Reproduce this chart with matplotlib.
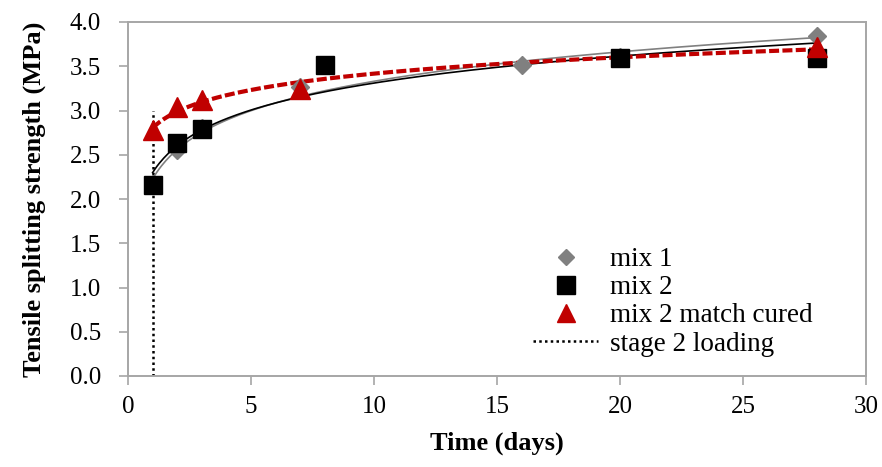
import numpy as np
import matplotlib
matplotlib.use("Agg")
import matplotlib.pyplot as plt
from matplotlib.lines import Line2D

plt.rcParams['font.family'] = ['Liberation Serif', 'DejaVu Serif']

mix1_days = [1, 2, 3, 7, 16, 20, 28]
mix1_vals = [2.17, 2.55, 2.80, 3.27, 3.51, 3.60, 3.84]
mix2_days = [1, 2, 3, 8, 20, 28]
mix2_vals = [2.16, 2.63, 2.79, 3.51, 3.59, 3.59]
mc_days = [1, 2, 3, 7, 28]
mc_vals = [2.78, 3.04, 3.12, 3.24, 3.72]
stage2_day = 1
stage2_range = [0.0, 3.0]

xticks = [0, 5, 10, 15, 20, 25, 30]
yticks = [0.0, 0.5, 1.0, 1.5, 2.0, 2.5, 3.0, 3.5, 4.0]

fig = plt.figure(figsize=(8.82, 4.67), dpi=100)
ax = fig.add_axes([128/882, 1-376/467, (866-128)/882, (376-22)/467])

def logfit(d, v):
    a, b = np.polyfit(np.log(d), v, 1)
    xs = np.linspace(min(d), max(d), 300)
    return xs, a * np.log(xs) + b

spine_c = '#a6a6a6'
dot_style = (0, (1, 1.3))

ax.plot([stage2_day, stage2_day], stage2_range, color='black', linestyle=dot_style, lw=1.8, zorder=2)

xs, ys = logfit(mix1_days, mix1_vals)
ax.plot(xs, ys, color='#808080', lw=1.2, zorder=3)
xs, ys = logfit(mix2_days, mix2_vals)
ax.plot(xs, ys, color='black', lw=1.2, zorder=3)
xs, ys = logfit(mc_days, mc_vals)
ax.plot(xs, ys, color='#c00000', lw=3, linestyle=(0, (2.4, 0.8)), zorder=4)

ax.plot(mix1_days, mix1_vals, linestyle='none', marker='D', markersize=9.2, color='#808080', zorder=5)
ax.plot(mix2_days, mix2_vals, linestyle='none', marker='s', markersize=13.3, color='black', zorder=6)
ax.plot(mc_days, mc_vals, linestyle='none', marker='^', markersize=14, color='#c00000', zorder=7)

ax.set_xlim(0, 30)
ax.set_ylim(0, 4.0)
ax.set_xticks(xticks)
ax.set_yticks(yticks)
ax.set_yticklabels([f"{t:.1f}" for t in yticks])
for s in ax.spines.values():
    s.set_color(spine_c)
    s.set_linewidth(1.4)
ax.tick_params(direction='out', length=6.5, width=1.2, color=spine_c, labelsize=18, labelcolor='black')
ax.tick_params(axis='y', pad=13)
ax.tick_params(axis='x', pad=8)

ax.set_xlabel('Time (days)', fontsize=19, fontweight='bold', labelpad=10)
ax.set_ylabel('Tensile splitting strength (MPa)', fontsize=19, fontweight='bold', labelpad=17)

handles = [
    Line2D([], [], linestyle='none', marker='D', markersize=8.2, color='#808080'),
    Line2D([], [], linestyle='none', marker='s', markersize=12.5, color='black'),
    Line2D([], [], linestyle='none', marker='^', markersize=12.5, color='#c00000'),
    Line2D([], [], color='black', linestyle=dot_style, lw=1.8),
]
labels = ['mix 1', 'mix 2', 'mix 2 match cured', 'stage 2 loading']
fig.legend(handles, labels, loc='upper left', bbox_to_anchor=(533/882, 1-247/467),
           frameon=False, fontsize=19.5, handlelength=2.4, labelspacing=0.12,
           handletextpad=0.45, borderpad=0, borderaxespad=0)

fig.savefig('out.png', dpi=100)
